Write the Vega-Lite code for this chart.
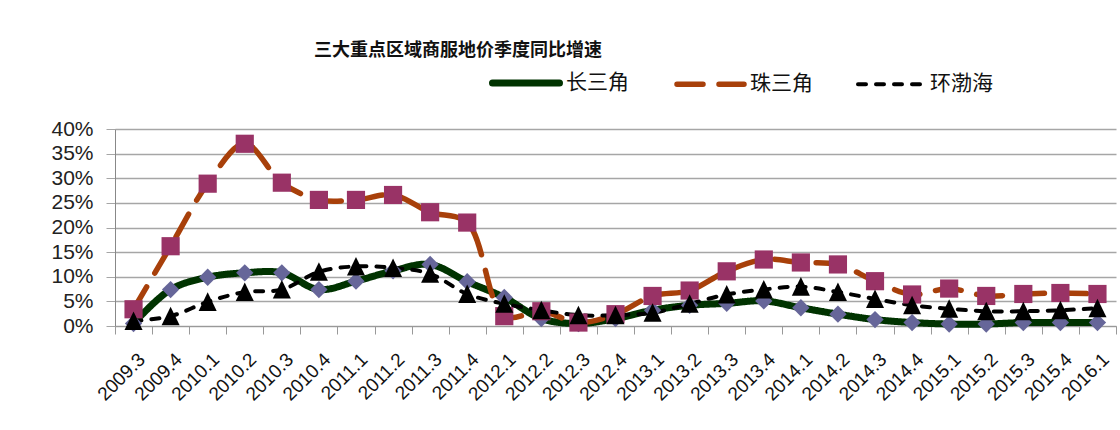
{
  "$schema": "https://vega.github.io/schema/vega-lite/v6.json",
  "width": 1001,
  "height": 197,
  "autosize": {"type": "none"},
  "padding": {"left": 115, "top": 129, "right": 4, "bottom": 104},
  "background": "white",
  "config": {"view": {"stroke": null}},
  "title": {"text": "三大重点区域商服地价季度同比增速", "anchor": "start", "dx": 263, "dy": 24, "font": "Noto Sans CJK SC", "fontSize": 18, "fontWeight": "bold", "color": "#111111", "offset": 10},
  "datasets": {
    "rows": [
      {"quarter": "2009.3", "series": "长三角", "value": 0.5},
      {"quarter": "2009.4", "series": "长三角", "value": 7.4},
      {"quarter": "2010.1", "series": "长三角", "value": 9.9},
      {"quarter": "2010.2", "series": "长三角", "value": 10.8},
      {"quarter": "2010.3", "series": "长三角", "value": 10.8},
      {"quarter": "2010.4", "series": "长三角", "value": 7.4},
      {"quarter": "2011.1", "series": "长三角", "value": 9.1},
      {"quarter": "2011.2", "series": "长三角", "value": 11.2},
      {"quarter": "2011.3", "series": "长三角", "value": 12.5},
      {"quarter": "2011.4", "series": "长三角", "value": 9.0},
      {"quarter": "2012.1", "series": "长三角", "value": 5.8},
      {"quarter": "2012.2", "series": "长三角", "value": 1.5},
      {"quarter": "2012.3", "series": "长三角", "value": 0.5},
      {"quarter": "2012.4", "series": "长三角", "value": 1.5},
      {"quarter": "2013.1", "series": "长三角", "value": 3.2},
      {"quarter": "2013.2", "series": "长三角", "value": 4.2},
      {"quarter": "2013.3", "series": "长三角", "value": 4.6},
      {"quarter": "2013.4", "series": "长三角", "value": 5.1},
      {"quarter": "2014.1", "series": "长三角", "value": 3.7},
      {"quarter": "2014.2", "series": "长三角", "value": 2.4},
      {"quarter": "2014.3", "series": "长三角", "value": 1.3},
      {"quarter": "2014.4", "series": "长三角", "value": 0.7},
      {"quarter": "2015.1", "series": "长三角", "value": 0.4},
      {"quarter": "2015.2", "series": "长三角", "value": 0.4},
      {"quarter": "2015.3", "series": "长三角", "value": 0.7},
      {"quarter": "2015.4", "series": "长三角", "value": 0.7},
      {"quarter": "2016.1", "series": "长三角", "value": 0.7},
      {"quarter": "2009.3", "series": "珠三角", "value": 3.4},
      {"quarter": "2009.4", "series": "珠三角", "value": 16.2},
      {"quarter": "2010.1", "series": "珠三角", "value": 28.9},
      {"quarter": "2010.2", "series": "珠三角", "value": 37.0},
      {"quarter": "2010.3", "series": "珠三角", "value": 29.1},
      {"quarter": "2010.4", "series": "珠三角", "value": 25.6},
      {"quarter": "2011.1", "series": "珠三角", "value": 25.6},
      {"quarter": "2011.2", "series": "珠三角", "value": 26.6},
      {"quarter": "2011.3", "series": "珠三角", "value": 23.1},
      {"quarter": "2011.4", "series": "珠三角", "value": 21.0},
      {"quarter": "2012.1", "series": "珠三角", "value": 2.0},
      {"quarter": "2012.2", "series": "珠三角", "value": 3.0},
      {"quarter": "2012.3", "series": "珠三角", "value": 0.7},
      {"quarter": "2012.4", "series": "珠三角", "value": 2.4},
      {"quarter": "2013.1", "series": "珠三角", "value": 6.1},
      {"quarter": "2013.2", "series": "珠三角", "value": 7.2},
      {"quarter": "2013.3", "series": "珠三角", "value": 11.1},
      {"quarter": "2013.4", "series": "珠三角", "value": 13.5},
      {"quarter": "2014.1", "series": "珠三角", "value": 12.9},
      {"quarter": "2014.2", "series": "珠三角", "value": 12.5},
      {"quarter": "2014.3", "series": "珠三角", "value": 9.1},
      {"quarter": "2014.4", "series": "珠三角", "value": 6.4},
      {"quarter": "2015.1", "series": "珠三角", "value": 7.6},
      {"quarter": "2015.2", "series": "珠三角", "value": 6.1},
      {"quarter": "2015.3", "series": "珠三角", "value": 6.5},
      {"quarter": "2015.4", "series": "珠三角", "value": 6.7},
      {"quarter": "2016.1", "series": "珠三角", "value": 6.5},
      {"quarter": "2009.3", "series": "环渤海", "value": 1.0},
      {"quarter": "2009.4", "series": "环渤海", "value": 2.0},
      {"quarter": "2010.1", "series": "环渤海", "value": 4.9},
      {"quarter": "2010.2", "series": "环渤海", "value": 6.9},
      {"quarter": "2010.3", "series": "环渤海", "value": 7.4},
      {"quarter": "2010.4", "series": "环渤海", "value": 11.0},
      {"quarter": "2011.1", "series": "环渤海", "value": 12.1},
      {"quarter": "2011.2", "series": "环渤海", "value": 11.8},
      {"quarter": "2011.3", "series": "环渤海", "value": 10.6},
      {"quarter": "2011.4", "series": "环渤海", "value": 6.5},
      {"quarter": "2012.1", "series": "环渤海", "value": 4.5},
      {"quarter": "2012.2", "series": "环渤海", "value": 3.2},
      {"quarter": "2012.3", "series": "环渤海", "value": 2.2},
      {"quarter": "2012.4", "series": "环渤海", "value": 2.2},
      {"quarter": "2013.1", "series": "环渤海", "value": 2.7},
      {"quarter": "2013.2", "series": "环渤海", "value": 4.5},
      {"quarter": "2013.3", "series": "环渤海", "value": 6.4},
      {"quarter": "2013.4", "series": "环渤海", "value": 7.4},
      {"quarter": "2014.1", "series": "环渤海", "value": 8.0},
      {"quarter": "2014.2", "series": "环渤海", "value": 6.9},
      {"quarter": "2014.3", "series": "环渤海", "value": 5.5},
      {"quarter": "2014.4", "series": "环渤海", "value": 4.2},
      {"quarter": "2015.1", "series": "环渤海", "value": 3.5},
      {"quarter": "2015.2", "series": "环渤海", "value": 3.0},
      {"quarter": "2015.3", "series": "环渤海", "value": 3.0},
      {"quarter": "2015.4", "series": "环渤海", "value": 3.2},
      {"quarter": "2016.1", "series": "环渤海", "value": 3.6}
    ]
  },
  "data": {"name": "rows"},
  "encoding": {
    "x": {
      "field": "quarter", "type": "ordinal", "sort": null, "bandPosition": 0.5,
      "scale": {"type": "band", "paddingInner": 0, "paddingOuter": 0},
      "axis": {"title": null, "tickBand": "extent", "tickSize": 8, "tickColor": "#999999", "domainColor": "#999999", "grid": false,
               "labelAngle": -45, "labelAlign": "right", "labelBaseline": "middle", "labelFont": "Liberation Sans", "labelFontSize": 19,
               "labelColor": "#111111", "labelPadding": 22, "labelOffset": 8, "labelOverlap": false}
    },
    "y": {
      "field": "value", "type": "quantitative",
      "scale": {"domain": [0, 40], "nice": false},
      "axis": {"title": null, "values": [0, 5, 10, 15, 20, 25, 30, 35, 40], "labelExpr": "datum.value + '%'", "grid": true,
               "gridColor": "#A6A6A6", "gridWidth": 1.3, "domainColor": "#888888", "tickColor": "#A6A6A6", "tickSize": 9,
               "labelFont": "Liberation Sans", "labelFontSize": 21, "labelColor": "#222222", "labelPadding": 13}
    }
  },
  "layer": [
    {
      "mark": {"type": "line", "interpolate": "catmull-rom", "strokeCap": "round", "strokeJoin": "round"},
      "encoding": {
        "color": {
          "field": "series", "type": "nominal",
          "scale": {"domain": ["长三角", "珠三角", "环渤海"], "range": ["#003300", "#A8400A", "#000000"]},
          "legend": {"title": null, "orient": "none", "legendX": 374, "legendY": -83, "direction": "horizontal",
                     "symbolType": "stroke", "symbolSize": 4489, "symbolStrokeWidth": 5, "padding": 0,
                     "labelFont": "Noto Sans CJK SC", "labelFontSize": 21, "labelColor": "#111111", "labelOffset": 3, "columnPadding": 37,
                     "encode": {"symbols": {"update": {"strokeWidth": {"signal": "datum.value === '长三角' ? 7 : datum.value === '珠三角' ? 4 : 5.5"}, "strokeCap": {"value": "round"}}}}}
        },
        "strokeDash": {
          "field": "series", "type": "nominal",
          "scale": {"domain": ["长三角", "珠三角", "环渤海"], "range": [[1, 0], [26, 16], [8, 10]]}
        },
        "strokeWidth": {
          "field": "series", "type": "nominal",
          "scale": {"domain": ["长三角", "珠三角", "环渤海"], "range": [7, 4, 5.5]},
          "legend": null
        }
      }
    },
    {
      "transform": [{"calculate": "datum.series + '\u200b'", "as": "marker"}],
      "mark": {"type": "point", "filled": true, "opacity": 1, "strokeWidth": 0},
      "encoding": {
        "shape": {
          "field": "marker", "type": "nominal",
          "scale": {"domain": ["长三角\u200b", "珠三角\u200b", "环渤海\u200b"], "range": ["diamond", "square", "M0,-1L-0.95,0.95L0.95,0.95Z"]},
          "legend": null
        },
        "fill": {
          "field": "marker", "type": "nominal",
          "scale": {"domain": ["长三角\u200b", "珠三角\u200b", "环渤海\u200b"], "range": ["#666699", "#993366", "#000000"]},
          "legend": null
        },
        "size": {
          "field": "marker", "type": "nominal",
          "scale": {"domain": ["长三角\u200b", "珠三角\u200b", "环渤海\u200b"], "range": [300, 361, 441]},
          "legend": null
        }
      }
    }
  ]
}
